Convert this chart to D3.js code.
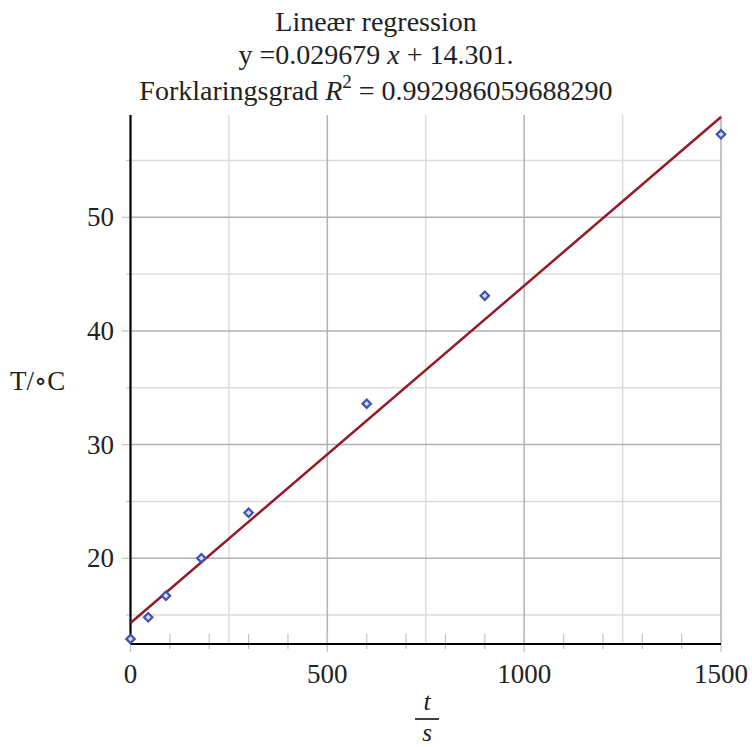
<!DOCTYPE html>
<html>
<head>
<meta charset="utf-8">
<script src="https://cdn.jsdelivr.net/npm/d3@7"></script>
<style>
  body { margin: 0; background: #fff; }
  text { font-family: "Liberation Serif", "DejaVu Serif", serif; fill: #222; }
</style>
</head>
<body>
<div id="chart"></div>
<script>
// measured points (time in s, temperature in degC)
var timeSec = [0, 45, 90, 180, 300, 600, 900, 1500];
var tempC = [12.9, 14.8, 16.7, 20, 24, 33.6, 43.1, 57.3];

// regression from the title
var slope = 0.029679, intercept = 14.301;

var xMajor = [0, 500, 1000, 1500];
var xGridMinor = [250, 750, 1250];
var yMajor = [20, 30, 40, 50];
var yMinor = [15, 25, 35, 45, 55];

var W = 752, H = 747;
var svg = d3.select("#chart").append("svg")
    .attr("width", W).attr("height", H);

var x = d3.scaleLinear().domain([0, 1500]).range([130.5, 721]);
var y = d3.scaleLinear().domain([12.45, 59]).range([644, 115]);

var xTicks = d3.range(100, 1500, 100).filter(function(d){ return d % 500 != 0; });

// grid
var grid = svg.append("g").attr("stroke-width", 1.5);
grid.selectAll("line.vmin").data(xGridMinor).enter().append("line")
  .attr("x1", x).attr("x2", x).attr("y1", y.range()[1]).attr("y2", y.range()[0])
  .attr("stroke", "#dcdcdc");
grid.selectAll("line.hmin").data(yMinor).enter().append("line")
  .attr("y1", y).attr("y2", y).attr("x1", x.range()[0]).attr("x2", x.range()[1])
  .attr("stroke", "#dcdcdc");
grid.selectAll("line.vmaj").data(xMajor.slice(1)).enter().append("line")
  .attr("x1", x).attr("x2", x).attr("y1", y.range()[1]).attr("y2", y.range()[0])
  .attr("stroke", "#b2b2b2");
grid.selectAll("line.hmaj").data(yMajor).enter().append("line")
  .attr("y1", y).attr("y2", y).attr("x1", x.range()[0]).attr("x2", x.range()[1])
  .attr("stroke", "#b2b2b2");

// ticks
var ticks = svg.append("g").attr("stroke", "#c4c4c4").attr("stroke-width", 1.2);
ticks.selectAll("line.xt").data(xTicks).enter().append("line")
  .attr("x1", x).attr("x2", x).attr("y1", 634).attr("y2", 649);
ticks.selectAll("line.xM").data(xMajor).enter().append("line")
  .attr("x1", x).attr("x2", x).attr("y1", 634).attr("y2", 652);
ticks.selectAll("line.yt").data(yMinor.concat(yMajor)).enter().append("line")
  .attr("y1", y).attr("y2", y).attr("x1", 130.5)
  .attr("x2", function(d){ return d % 10 == 0 ? 122 : 126; });

// axes lines
svg.append("line").attr("x1", x(0)).attr("x2", x(0)).attr("y1", y.range()[1]).attr("y2", 644)
  .attr("stroke", "#000").attr("stroke-width", 2.2);
svg.append("line").attr("x1", x(0)).attr("x2", x(1500)).attr("y1", 644).attr("y2", 644)
  .attr("stroke", "#000").attr("stroke-width", 2.2);

// tick labels
svg.selectAll("text.xl").data(xMajor).enter().append("text")
  .attr("x", x).attr("y", 683).attr("text-anchor", "middle")
  .attr("font-size", 27).text(function(d){ return d; });
svg.selectAll("text.yl").data(yMajor).enter().append("text")
  .attr("x", 114).attr("y", function(d){ return y(d) + 9; }).attr("text-anchor", "end")
  .attr("font-size", 27).text(function(d){ return d; });

// regression line
svg.append("line")
  .attr("x1", x(0)).attr("y1", y(intercept + slope * 0))
  .attr("x2", x(1500)).attr("y2", y(intercept + slope * 1500))
  .attr("stroke", "#931a28").attr("stroke-width", 2.5);

// points
var pts = timeSec.map(function(t, i){ return [t, tempC[i]]; });
svg.selectAll("path.pt").data(pts).enter().append("path")
  .attr("d", d3.symbol().type(d3.symbolDiamond2).size(45))
  .attr("transform", function(d){ return "translate(" + x(d[0]) + "," + y(d[1]) + ")"; })
  .attr("fill", "#d8dcf0").attr("stroke", "#3f52b0").attr("stroke-width", 2.2);

// titles
var title = svg.append("g").attr("font-size", 28).attr("text-anchor", "middle");
title.append("text").attr("x", 376).attr("y", 31).text("Lineær regression");
var t2 = title.append("text").attr("x", 376).attr("y", 64);
t2.append("tspan").text("y =0.029679 ");
t2.append("tspan").attr("font-style", "italic").text("x");
t2.append("tspan").text(" + 14.301.");
var t3 = title.append("text").attr("x", 376).attr("y", 100);
t3.append("tspan").text("Forklaringsgrad ");
t3.append("tspan").attr("font-style", "italic").text("R");
t3.append("tspan").attr("font-size", 19).attr("dy", -12).text("2");
t3.append("tspan").attr("dy", 12).text(" = 0.992986059688290");

// axis labels
svg.append("text").attr("x", 10).attr("y", 390).attr("font-size", 27).text("T/\u2218C");
svg.append("text").attr("x", 427).attr("y", 710).attr("font-size", 26)
  .attr("font-style", "italic").attr("text-anchor", "middle").text("t");
svg.append("line").attr("x1", 415).attr("x2", 439).attr("y1", 719).attr("y2", 719)
  .attr("stroke", "#000").attr("stroke-width", 1.5);
svg.append("text").attr("x", 427).attr("y", 741).attr("font-size", 25)
  .attr("font-style", "italic").attr("text-anchor", "middle").text("s");
</script>
</body>
</html>
